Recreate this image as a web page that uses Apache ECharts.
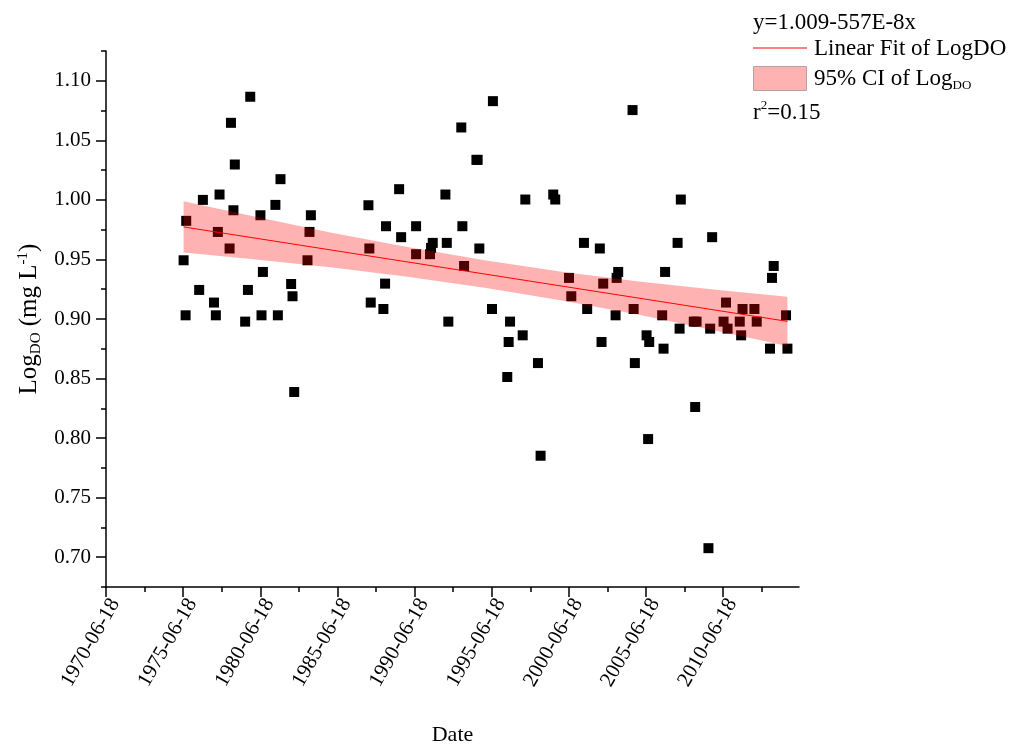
<!DOCTYPE html>
<html><head><meta charset="utf-8">
<script src="https://cdn.jsdelivr.net/npm/echarts@6/dist/echarts.min.js"></script>
<style>html,body{margin:0;padding:0;background:#fff}#c{width:1015px;height:755px}</style>
</head><body><div id="c"></div>
<script>
// decimal years of samples
const years = [
1975.49,1975.62,1975.66,
1976.50,1976.74,
1977.46,1977.58,1977.71,1977.82,
1978.47,1978.56,1978.72,1978.81,
1979.48,1979.66,1979.81,
1980.47,1980.54,1980.63,
1981.44,1981.60,1981.77,
1982.46,1982.55,1982.66,
1983.52,1983.65,1983.74,
1987.47,1987.53,1987.62,
1988.44,1988.55,1988.61,
1989.46,1989.59,
1990.56,1990.56,
1991.46,1991.53,1991.64,
1992.46,1992.55,1992.65,
1993.49,1993.56,1993.67,
1994.47,1994.55,1994.66,
1995.48,1995.54,
1996.47,1996.56,1996.65,
1997.47,1997.64,
1998.46,1998.63,
1999.45,1999.58,
2000.47,2000.62,
2001.44,2001.65,
2002.47,2002.58,2002.69,
2003.49,2003.56,2003.66,
2004.59,2004.66,2004.74,
2005.50,2005.60,2005.67,
2006.51,2006.60,2006.70,
2007.51,2007.64,2007.72,
2008.56,2008.65,2008.74,
2009.51,2009.62,2009.75,
2010.49,2010.65,2010.75,
2011.54,2011.63,2011.72,
2012.49,2012.64,
2013.50,2013.63,2013.74,
2014.54,2014.63
];
const logDO = [
0.9493,0.9031,0.9824,
0.9244,1.0000,
0.9138,0.9031,0.9731,1.0045,
0.9592,1.0647,0.9913,1.0297,
0.8978,0.9244,1.0866,
0.9871,0.9031,0.9395,
0.9958,0.9031,1.0174,
0.9294,0.9191,0.8387,
0.9493,0.9731,0.9871,
0.9955,0.9592,0.9138,
0.9084,0.9297,0.9779,
1.0090,0.9687,
0.9779,0.9544,
0.9544,0.9597,0.9639,
1.0045,0.9639,0.8978,
1.0608,0.9779,0.9445,
1.0336,1.0336,0.9592,
0.9084,1.0829,
0.8513,0.8807,0.8978,
0.8863,1.0003,
0.8630,0.7852,
1.0045,1.0003,
0.9345,0.9191,
0.9639,0.9084,
0.9592,0.8807,0.9297,
0.9031,0.9345,0.9395,
1.0754,0.9084,0.8630,
0.8863,0.7992,0.8807,
0.9031,0.8751,0.9395,
0.9639,0.8919,1.0003,
0.8978,0.8261,0.8978,
0.7076,0.8919,0.9687,
0.8978,0.9138,0.8919,
0.8978,0.8863,0.9084,
0.9084,0.8978,
0.8751,0.9345,0.9445,
0.9031,0.8751
];
// linear fit endpoints
const fitYears = [1975.49, 2014.63];
const fitValues = [0.9773, 0.8980];
// 95% confidence band
const ciYears = [1975.49, 1980, 1985, 1990, 1995, 2000, 2005, 2010, 2014.63];
const ciUpper = [0.9988, 0.9862, 0.9726, 0.9604, 0.9493, 0.9396, 0.9315, 0.9246, 0.9187];
const ciLower = [0.9558, 0.9502, 0.9434, 0.9354, 0.9263, 0.9156, 0.9035, 0.8902, 0.8773];
// axis ticks
const xTickLabels = ['1970-06-18','1975-06-18','1980-06-18','1985-06-18','1990-06-18','1995-06-18','2000-06-18','2005-06-18','2010-06-18'];
const yTickValues = [0.70,0.75,0.80,0.85,0.90,0.95,1.00,1.05,1.10];
const yMinorValues = [0.675,0.725,0.775,0.825,0.875,0.925,0.975,1.025,1.075,1.125];
const originYear = 1970.46; // 1970-06-18
const xMaxYears = 44.92;

const FONT = 'Liberation Serif';
const xMajor = xTickLabels.map((_, i) => i * 5);
const xMinor = xTickLabels.map((_, i) => i * 5 + 2.5);

const chart = echarts.init(document.getElementById('c'), null, {renderer: 'canvas'});
const axisLineStyle = {color: '#000', width: 1.5};
const option = {
  animation: false,
  backgroundColor: '#fff',
  grid: {left: 106, right: 216, top: 51, bottom: 168, containLabel: false},
  xAxis: [{
    type: 'value', min: 0, max: xMaxYears, interval: 5,
    name: 'Date', nameLocation: 'middle', nameGap: 137,
    nameTextStyle: {fontFamily: FONT, fontSize: 22, color: '#000', verticalAlign: 'top'},
    axisLine: {show: true, onZero: false, lineStyle: axisLineStyle},
    axisTick: {show: true, length: 10, lineStyle: axisLineStyle, customValues: xMajor},
    axisLabel: {show: true, rotate: 60, margin: 8, fontFamily: FONT, fontSize: 21, color: '#000',
      align: 'right', verticalAlign: 'top',
      customValues: xMajor,
      formatter: v => xTickLabels[Math.round(v / 5)] || ''},
    splitLine: {show: false}
  }, {
    type: 'value', min: 0, max: xMaxYears, position: 'bottom', gridIndex: 0,
    axisLine: {show: false},
    axisTick: {show: true, length: 5, lineStyle: axisLineStyle, customValues: xMinor},
    axisLabel: {show: false},
    splitLine: {show: false}
  }],
  yAxis: [{
    type: 'value', min: 0.675, max: 1.125,
    name: '{a|Log}{sub|DO}{a| (mg L}{sup|-1}{a|)}',
    nameLocation: 'middle', nameRotate: 90, nameGap: 60,
    nameTextStyle: {fontFamily: FONT, fontSize: 25, color: '#000',
      rich: {
        a: {fontFamily: FONT, fontSize: 25, color: '#000'},
        sub: {fontFamily: FONT, fontSize: 15, color: '#000', padding: [13, 0, 0, 0]},
        sup: {fontFamily: FONT, fontSize: 15, color: '#000', padding: [0, 0, 13, 0]}
      }},
    axisLine: {show: true, onZero: false, lineStyle: axisLineStyle},
    axisTick: {show: true, length: 10, lineStyle: axisLineStyle, customValues: yTickValues},
    axisLabel: {show: true, margin: 15, fontFamily: FONT, fontSize: 21, color: '#000',
      customValues: yTickValues, formatter: v => v.toFixed(2)},
    splitLine: {show: false}
  }, {
    type: 'value', min: 0.675, max: 1.125, position: 'left', gridIndex: 0,
    axisLine: {show: false},
    axisTick: {show: true, length: 5, lineStyle: axisLineStyle, customValues: yMinorValues},
    axisLabel: {show: false},
    splitLine: {show: false}
  }],
  series: [{
    type: 'scatter', xAxisIndex: 0, yAxisIndex: 0,
    symbol: 'rect', symbolSize: 10,
    itemStyle: {color: '#000', opacity: 1},
    data: years.map((y, i) => [y - originYear, logDO[i]]),
    z: 2
  }, {
    type: 'custom', xAxisIndex: 0, yAxisIndex: 0,
    data: ciYears.map((y, i) => [y - originYear, ciLower[i], ciUpper[i]]),
    encode: {x: 0, y: [1, 2]},
    renderItem: function (params, api) {
      if (params.dataIndex !== 0) return null;
      const pts = [];
      for (let i = 0; i < ciYears.length; i++) pts.push(api.coord([ciYears[i] - originYear, ciUpper[i]]));
      for (let i = ciYears.length - 1; i >= 0; i--) pts.push(api.coord([ciYears[i] - originYear, ciLower[i]]));
      return {type: 'polygon', shape: {points: pts}, style: {fill: 'rgba(255,0,0,0.3)', stroke: null}};
    },
    silent: true, z: 3
  }, {
    type: 'line', xAxisIndex: 0, yAxisIndex: 0,
    data: fitYears.map((y, i) => [y - originYear, fitValues[i]]),
    symbol: 'none', lineStyle: {color: '#ff0000', width: 1}, silent: true, z: 4
  }],
  graphic: [
    {type: 'text', left: 753, top: 11, style: {text: 'y=1.009-557E-8x', fontFamily: FONT, fontSize: 23, fill: '#000'}},
    {type: 'line', shape: {x1: 753, y1: 48, x2: 807, y2: 48}, style: {stroke: '#ff0000', lineWidth: 1.2}},
    {type: 'text', left: 814, top: 37, style: {text: 'Linear Fit of LogDO', fontFamily: FONT, fontSize: 23, fill: '#000'}},
    {type: 'rect', shape: {x: 753.5, y: 66.5, width: 53, height: 24}, style: {fill: 'rgb(255,178,178)', stroke: '#b8a0a0', lineWidth: 1}},
    {type: 'text', left: 814, top: 67, style: {
      text: '{a|95% CI of Log}{sub|DO}',
      rich: {a: {fontFamily: FONT, fontSize: 23, fill: '#000'}, sub: {fontFamily: FONT, fontSize: 13, fill: '#000', padding: [14, 0, 0, 0]}}}},
    {type: 'text', left: 753, top: 99, style: {
      text: '{a|r}{sup|2}{a|=0.15}',
      rich: {a: {fontFamily: FONT, fontSize: 23, fill: '#000'}, sup: {fontFamily: FONT, fontSize: 13, fill: '#000', padding: [0, 0, 14, 0]}}}}
  ]
};
chart.setOption(option);
</script>
</body></html>
